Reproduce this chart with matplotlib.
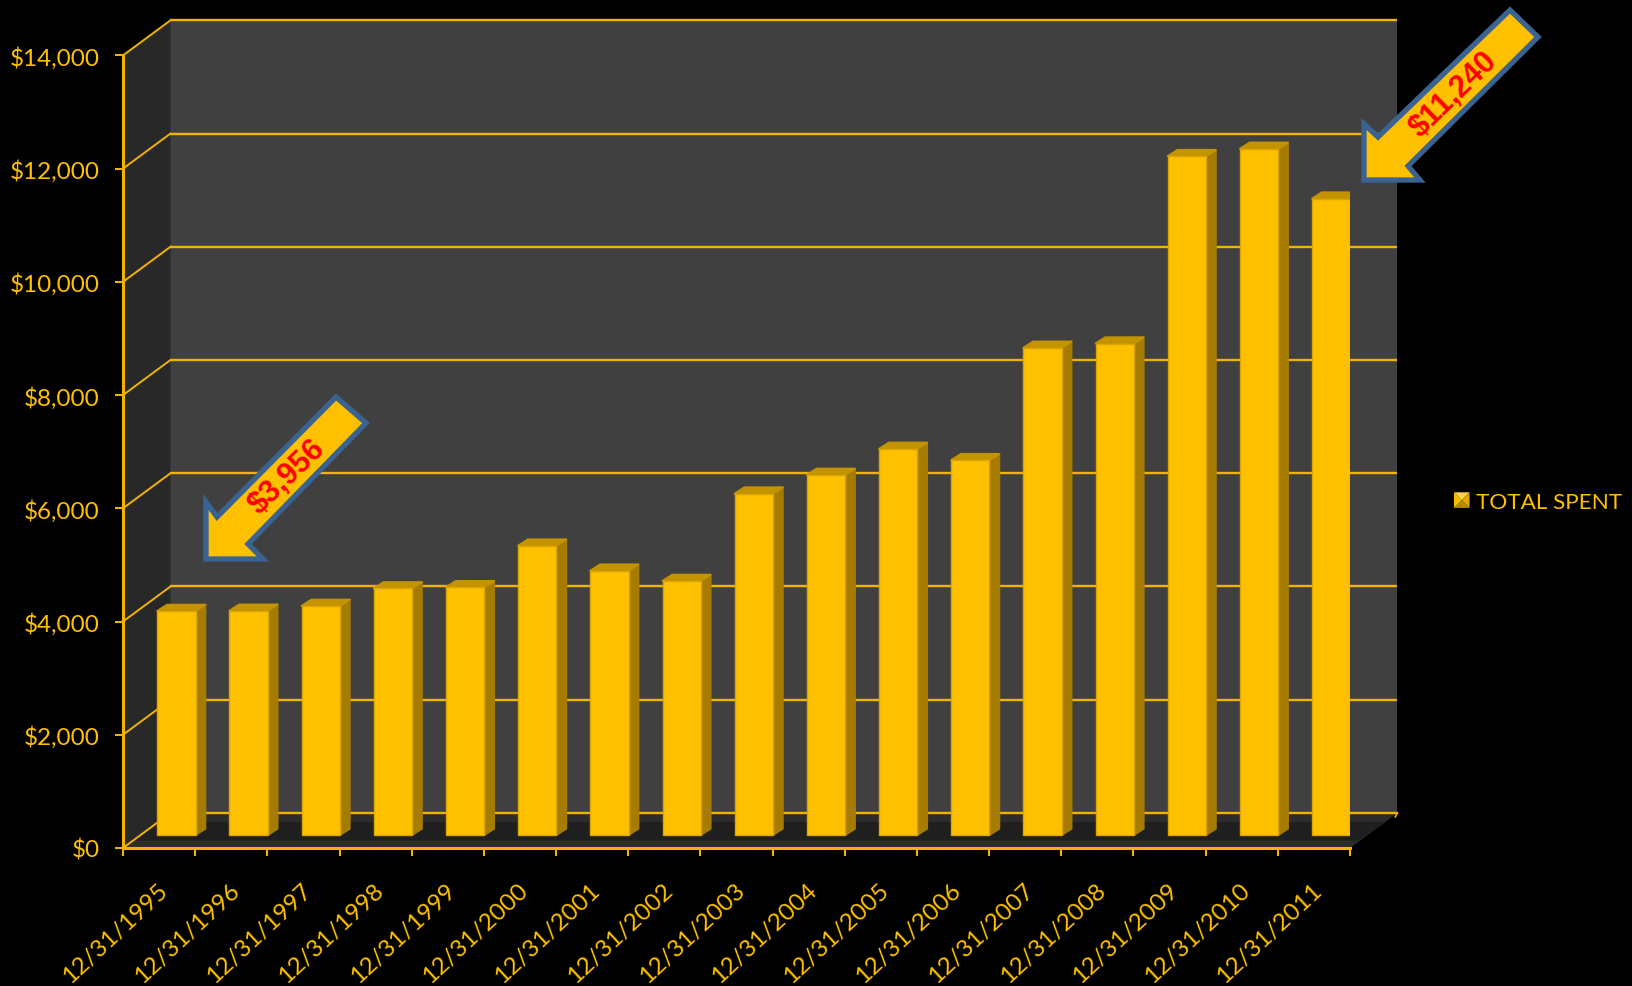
import matplotlib
matplotlib.use('Agg')
import matplotlib.pyplot as plt
from matplotlib.patches import Polygon, Patch
from matplotlib.legend_handler import HandlerBase

years = ['12/31/%d' % y for y in range(1995, 2012)]
total_spent = [3956, 3960, 4046, 4355, 4375, 5110, 4668, 4487, 6030, 6360, 6820, 6620, 8605, 8680, 11990, 12120, 11240]
y_ticks = [0, 2000, 4000, 6000, 8000, 10000, 12000, 14000]
y_labels = ['$0', '$2,000', '$4,000', '$6,000', '$8,000', '$10,000', '$12,000', '$14,000']

W, H = 1633, 987
GOLD = '#FFC000'
LINE = '#F0B400'
BLUE = '#3A6391'

# depth of the fake 3d box, x in categories and y in dollars
DX, DY = 0.658, 620
# bars stand a bit behind the front edge
BAR_X, BAR_Y = 0.24, 230
BAR_W = 0.53
BAR_DX, BAR_DY = 0.135, 110


def px(x, y):
    # pixel position in the picture -> figure fraction
    return x / W, 1 - y / H


def fig_poly(points, **kw):
    p = Polygon([px(*q) for q in points], closed=True, transform=fig.transFigure, **kw)
    fig.add_artist(p)
    return p


class BevelHandler(HandlerBase):
    # legend key drawn as a small bevelled pyramid
    def create_artists(self, legend, orig, xd, yd, w, h, fontsize, trans):
        x0, y0, x1, y1 = -xd, -yd, -xd + w, -yd + h
        c = ((x0 + x1) / 2, (y0 + y1) / 2)
        faces = [([(x0, y1), (x1, y1), c], '#FFD44D'), ([(x1, y1), (x1, y0), c], '#E0A800'),
                 ([(x1, y0), (x0, y0), c], '#B88A00'), ([(x0, y0), (x0, y1), c], '#F5BC00')]
        return [Polygon(pts, closed=True, facecolor=col, edgecolor='none', transform=trans) for pts, col in faces]


fig = plt.figure(figsize=(W / 100, H / 100), dpi=100, facecolor='black')
ax = fig.add_axes([123 / W, 1 - 849 / H, (1350 - 123) / W, (849 - 56.4) / H])
ax.set_facecolor('none')
n = len(years)
ax.set_xlim(0, n)
ax.set_ylim(0, 14000)

# walls and floor
top = y_ticks[-1]
ax.add_patch(Polygon([(DX, DY), (n + DX, DY), (n + DX, top + DY), (DX, top + DY)], facecolor='#404040', clip_on=False, zorder=0))
ax.add_patch(Polygon([(0, 0), (DX, DY), (DX, top + DY), (0, top)], facecolor='#282828', clip_on=False, zorder=0))
ax.add_patch(Polygon([(0, 0), (n, 0), (n + DX, DY), (DX, DY)], facecolor='#2C2C2C', clip_on=False, zorder=0.5))
ax.add_patch(Polygon([(0.1, 130), (n + 0.1, 130), (n + DX - 0.15, DY - 160), (DX - 0.15, DY - 160)], facecolor='#1F1F1F', clip_on=False, zorder=0.6))

# gridlines on the back wall and the left wall
for v in y_ticks:
    ax.plot([DX, n + DX], [v + DY, v + DY], color=LINE, lw=1.7, clip_on=False, zorder=1, solid_capstyle='butt')
    ax.plot([0, DX], [v, v + DY], color=LINE, lw=1.4, clip_on=False, zorder=1)
ax.plot([n + DX - 0.03, n + DX], [DY - 70, DY], color=LINE, lw=1.2, clip_on=False, zorder=1)

# bars
pos = [i + 0.5 + BAR_X for i in range(n)]
bars = ax.bar(pos, total_spent, width=BAR_W, bottom=BAR_Y, color=GOLD, edgecolor='#DCA600', linewidth=1,
              joinstyle='round', zorder=3, label='TOTAL SPENT')
for x, v in zip(pos, total_spent):
    x0, x1 = x - BAR_W / 2, x + BAR_W / 2
    t = v + BAR_Y
    ax.add_patch(Polygon([(x1, BAR_Y), (x1, t), (x1 + BAR_DX, t + BAR_DY), (x1 + BAR_DX, BAR_Y + BAR_DY)],
                         facecolor='#A67C00', edgecolor='#A67C00', lw=1.5, joinstyle='round', zorder=2))
    ax.add_patch(Polygon([(x0, t), (x1, t), (x1 + BAR_DX, t + BAR_DY), (x0 + BAR_DX, t + BAR_DY)],
                         facecolor='#C49300', edgecolor='#C49300', lw=1.5, joinstyle='round', zorder=2.5))

# axes
for s in ['top', 'right']:
    ax.spines[s].set_visible(False)
for s in ['left', 'bottom']:
    ax.spines[s].set_color(LINE)
    ax.spines[s].set_linewidth(2.2)
    ax.spines[s].set_zorder(4)
ax.set_yticks(y_ticks)
ax.set_yticklabels(y_labels, fontsize=17.5, color=GOLD, family='Lato')
ax.set_xticks(range(n + 1))
ax.set_xticklabels([])
# date labels hang from the middle of each category
ax.set_xticks([i + 0.47 for i in range(n)], minor=True)
ax.set_xticklabels(years, minor=True, fontsize=17.5, color=GOLD, family='Lato', rotation=43, ha='right', rotation_mode='anchor')
ax.tick_params(axis='both', which='major', color=LINE, width=1.5, length=6)
ax.tick_params(axis='x', which='minor', length=0, pad=22)
ax.tick_params(axis='y', pad=11)

# legend
ax.legend(handles=[Patch(label='TOTAL SPENT')], handler_map={Patch: BevelHandler()}, frameon=False,
          loc='center left', bbox_to_anchor=(1454 / W, 1 - 503 / H), bbox_transform=fig.transFigure,
          prop={'family': 'Lato', 'size': 16.2}, labelcolor=GOLD, handlelength=0.69, handleheight=0.69,
          handletextpad=0.27, borderpad=0, borderaxespad=0)

# callout arrows
arrow_right = [(1364, 181), (1364, 125), (1378, 138), (1510, 11), (1538, 38), (1408, 167), (1420, 181)]
arrow_left = [(206, 560), (206, 503), (217, 518), (336, 398), (366, 424), (248, 545), (263, 560)]
for pts in [arrow_left, arrow_right]:
    fig_poly(pts, facecolor=GOLD, edgecolor=BLUE, linewidth=3.8, joinstyle='miter', zorder=5)
for label, (x, y) in [('$3,956', (287.5, 477)), ('$11,240', (1454, 95))]:
    fig.text(*px(x, y), label, color='#FF0000', fontsize=22, family='Liberation Sans', fontweight='bold', rotation=44,
             ha='center', va='center', rotation_mode='anchor', zorder=6)

fig.savefig('out.png', dpi=100, facecolor='black')
